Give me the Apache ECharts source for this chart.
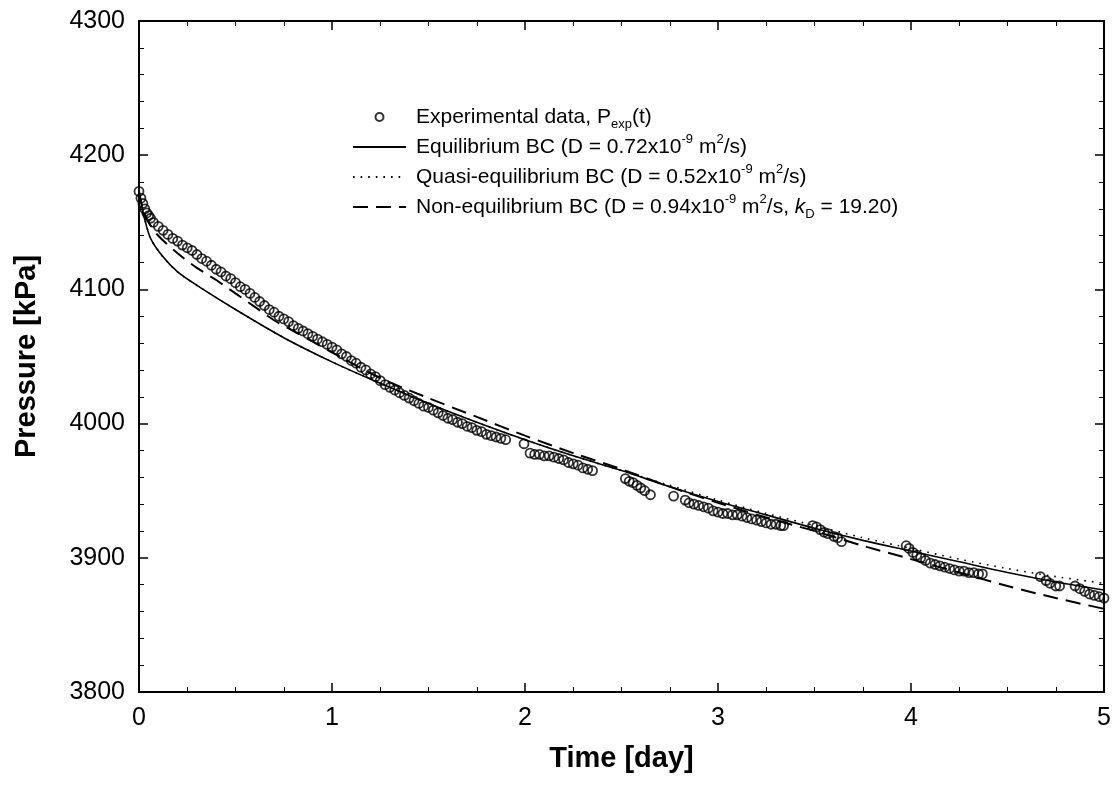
<!DOCTYPE html>
<html>
<head>
<meta charset="utf-8">
<script src="https://cdn.jsdelivr.net/npm/echarts@6/dist/echarts.min.js"></script>
<style>
html,body{margin:0;padding:0;background:#fff;}
#chart{width:1120px;height:804px;}
</style>
</head>
<body>
<div id="chart"></div>
<script>
// ---- Data ----
var expTime = [0,0.01,0.02,0.03,0.04,0.05,0.06,0.075,0.1,0.125,0.15,0.175,0.2,0.225,0.25,0.275,0.3,0.325,0.35,0.375,0.4,0.425,0.45,0.475,0.5,0.525,0.55,0.575,0.6,0.625,0.65,0.675,0.7,0.725,0.75,0.775,0.8,0.825,0.85,0.875,0.9,0.925,0.95,0.975,1.0,1.025,1.05,1.075,1.1,1.125,1.15,1.175,1.2,1.225,1.25,1.275,1.3,1.325,1.35,1.375,1.4,1.425,1.45,1.475,1.5,1.525,1.55,1.575,1.6,1.625,1.65,1.675,1.7,1.725,1.75,1.775,1.8,1.825,1.85,1.875,1.9,
  1.995,
  2.026,2.05,2.075,2.1,2.125,2.15,2.175,2.2,2.225,2.25,2.275,2.3,2.325,2.35,
  2.52,2.54,2.56,2.58,2.6,2.62,2.65,
  2.77,
  2.83,2.85,2.875,2.9,2.925,2.95,2.975,3.0,3.025,3.05,3.075,3.1,3.125,3.15,3.175,3.2,3.225,3.25,3.275,3.3,3.325,3.34,
  3.49,3.51,3.53,3.55,3.57,3.6,3.62,3.64,
  3.975,3.99,4.01,4.03,4.05,4.075,4.1,4.125,4.15,4.175,4.2,4.225,4.25,4.275,4.3,4.325,4.35,4.37,
  4.67,4.7,4.72,4.75,4.77,4.85,4.875,4.9,4.925,4.95,4.975,5.0];
var expPressure = [4173,4168,4164,4160,4157,4155,4153,4150,4147,4144,4141,4138,4136,4133,4131,4129,4126,4123,4121,4118,4115,4113,4110,4108,4105,4102,4100,4097,4094,4091,4088,4085,4083,4080,4078,4076,4073,4071,4069,4067,4065,4063,4061,4059,4057,4055,4052,4050,4047,4045,4042,4040,4037,4035,4032,4029,4027,4025,4023,4021,4019,4017,4015,4013,4012,4010,4008,4006,4004,4003,4001,4000,3998,3997,3995,3994,3992,3991,3990,3989,3988,
  3985,
  3978,3977,3977,3976,3976,3975,3974,3973,3971,3970,3969,3967,3966,3965,
  3959,3957,3956,3954,3952,3950,3947,
  3946,
  3943,3941,3940,3939,3938,3937,3935,3934,3933,3933,3932,3932,3931,3930,3929,3928,3927,3926,3925,3925,3924,3924,
  3924,3923,3921,3919,3918,3916,3915,3912,
  3909,3907,3904,3902,3900,3898,3896,3895,3894,3893,3892,3891,3890,3890,3889,3889,3888,3888,
  3886,3883,3881,3879,3879,3879,3877,3875,3873,3872,3871,3870];

var modelTime      = [0,0.01,0.03,0.06,0.12,0.2,0.3,0.5,0.75,1.0,1.25,1.5,1.75,2.0,2.25,2.5,2.75,3.0,3.25,3.5,3.75,4.0,4.25,4.5,4.75,5.0];
var eqPressure     = [4173,4165,4152,4138,4125,4113,4103,4085,4064,4046,4030,4015,4001,3988,3976,3965,3953,3942,3932,3922,3913,3905,3897,3889,3882,3876];
var quasiPressure  = [4173,4165,4152,4138,4125,4113,4103,4085,4064,4046,4030,4015,4001,3988,3976,3965,3954,3943,3933,3924,3915,3907,3899,3892,3886,3881];

var noneqTime      = [0,0.02,0.05,0.1,0.2,0.3,0.4,0.5,0.6,0.7,0.8,0.9,1.0,1.25,1.5,1.75,2.0,2.25,2.5,2.75,3.0,3.25,3.5,3.75,4.0,4.25,4.5,4.75,5.0];
var noneqPressure  = [4173,4160,4150,4140,4127,4116,4107,4097,4087,4077,4069,4061,4053,4034,4019,4005,3991,3978,3966,3953,3941,3930,3920,3909,3899,3889,3879,3870,3862];

var xTicks = [0,1,2,3,4,5];
var yTicks = [3800,3900,4000,4100,4200,4300];

var legendLabels = {
  exp:   'Experimental data, P{sub|exp}(t)',
  eq:    'Equilibrium BC (D = 0.72x10{sup|-9} m{sup|2}/s)',
  quasi: 'Quasi-equilibrium BC (D = 0.52x10{sup|-9} m{sup|2}/s)',
  noneq: 'Non-equilibrium BC (D = 0.94x10{sup|-9} m{sup|2}/s, {it|k}{sub|D} = 19.20)'
};

function pairs(xs, ys){ return xs.map(function(x,i){ return [x, ys[i]]; }); }

var FONT = '"Liberation Sans", Arial, sans-serif';
var LFS = 21;

var axisCommon = {
  axisLine: {show:true, onZero:false, lineStyle:{color:'#000', width:2}},
  axisTick: {show:true, inside:true, length:9, lineStyle:{color:'#000', width:1.5}},
  minorTick: {show:true, length:5, lineStyle:{color:'#000', width:1}},
  splitLine: {show:false},
  minorSplitLine: {show:false}
};

var noSym = {color:'rgba(0,0,0,0)', borderWidth:0, borderColor:'rgba(0,0,0,0)'};

var chart = echarts.init(document.getElementById('chart'), null, {renderer:'canvas'});
chart.setOption({
  backgroundColor:'#fff',
  animation:false,
  grid:{left:139, top:21, right:16, bottom:112, containLabel:false},
  xAxis:[
    Object.assign({}, axisCommon, {
      type:'value', min:xTicks[0], max:xTicks[xTicks.length-1], interval:1, position:'bottom',
      minorTick:Object.assign({}, axisCommon.minorTick, {splitNumber:4}),
      axisLabel:{color:'#000', fontSize:25, fontFamily:FONT, margin:14},
      name:'Time [day]', nameLocation:'middle', nameGap:52,
      nameTextStyle:{color:'#000', fontSize:29, fontWeight:'bold', fontFamily:FONT}
    }),
    Object.assign({}, axisCommon, {
      type:'value', min:xTicks[0], max:xTicks[xTicks.length-1], interval:1, position:'top',
      minorTick:Object.assign({}, axisCommon.minorTick, {splitNumber:4}),
      axisLabel:{show:false}
    })
  ],
  yAxis:[
    Object.assign({}, axisCommon, {
      type:'value', min:yTicks[0], max:yTicks[yTicks.length-1], interval:100, position:'left',
      minorTick:Object.assign({}, axisCommon.minorTick, {splitNumber:5}),
      axisLabel:{color:'#000', fontSize:25, fontFamily:FONT, margin:14, formatter:function(v){ return String(v); }},
      name:'Pressure [kPa]', nameLocation:'middle', nameGap:98, nameRotate:90,
      nameTextStyle:{color:'#000', fontSize:29, fontWeight:'bold', fontFamily:FONT}
    }),
    Object.assign({}, axisCommon, {
      type:'value', min:yTicks[0], max:yTicks[yTicks.length-1], interval:100, position:'right',
      minorTick:Object.assign({}, axisCommon.minorTick, {splitNumber:5}),
      axisLabel:{show:false}
    })
  ],
  legend:{
    orient:'vertical', left:347, top:98, itemWidth:53, itemHeight:8, itemGap:2,
    data:[
      {name:'exp'},
      {name:'eq', itemStyle:noSym},
      {name:'quasi', itemStyle:noSym},
      {name:'noneq', itemStyle:noSym}
    ],
    formatter:function(n){ return legendLabels[n]; },
    textStyle:{
      color:'#000', fontSize:LFS, fontFamily:FONT, lineHeight:28, padding:[0,0,0,5],
      rich:{
        sup:{fontSize:13, fontFamily:FONT, verticalAlign:'top', lineHeight:26},
        sub:{fontSize:13, fontFamily:FONT, verticalAlign:'bottom', lineHeight:24},
        it:{fontSize:LFS, fontFamily:FONT, fontStyle:'italic', lineHeight:28}
      }
    }
  },
  series:[
    {
      name:'exp', type:'scatter', xAxisIndex:0, yAxisIndex:0,
      data:pairs(expTime, expPressure),
      symbol:'circle', symbolSize:9,
      itemStyle:{color:'rgba(255,255,255,0)', borderColor:'#000', borderWidth:1.8},
      z:3
    },
    {
      name:'eq', type:'line', xAxisIndex:0, yAxisIndex:0,
      data:pairs(modelTime, eqPressure), smooth:0.3, showSymbol:false, symbol:'none',
      lineStyle:{color:'#000', width:1.6, type:'solid'}, itemStyle:{color:'#000'}
    },
    {
      name:'quasi', type:'line', xAxisIndex:0, yAxisIndex:0,
      data:pairs(modelTime, quasiPressure), smooth:0.3, showSymbol:false, symbol:'none',
      lineStyle:{color:'#000', width:1.6, type:[1.6,6]}, itemStyle:{color:'#000'}
    },
    {
      name:'noneq', type:'line', xAxisIndex:0, yAxisIndex:0,
      data:pairs(noneqTime, noneqPressure), smooth:0.3, showSymbol:false, symbol:'none',
      lineStyle:{color:'#000', width:2, type:[15,8]}, itemStyle:{color:'#000'}
    }
  ]
});
</script>
</body>
</html>
